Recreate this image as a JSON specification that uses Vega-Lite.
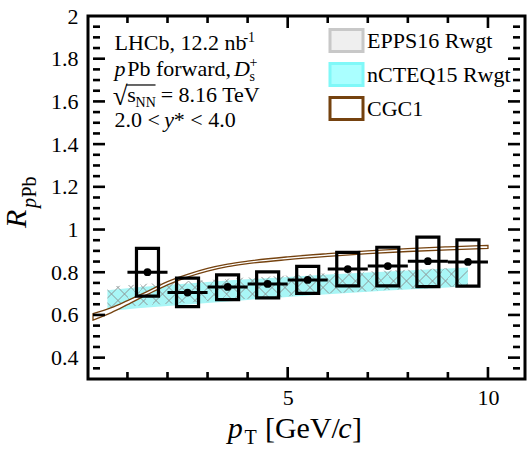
{
  "$schema": "https://vega.github.io/schema/vega-lite/v6.json",
  "width": 437,
  "height": 363,
  "autosize": {"type": "none"},
  "padding": {"left": 88, "top": 16, "right": 3, "bottom": 75},
  "background": "white",
  "config": {
    "view": {"stroke": "black", "strokeWidth": 3},
    "font": "Liberation Serif",
    "axis": {"domain": false, "ticks": false, "grid": false, "labelFont": "Liberation Serif", "labelFontSize": 22, "labelColor": "black", "title": null}
  },
  "datasets": {
    "bands": [
      {"model": "nCTEQ15 Rwgt", "pt": 0.5, "lo": 0.618, "hi": 0.716},
      {"model": "nCTEQ15 Rwgt", "pt": 1.0, "lo": 0.627, "hi": 0.725},
      {"model": "nCTEQ15 Rwgt", "pt": 1.5, "lo": 0.635, "hi": 0.733},
      {"model": "nCTEQ15 Rwgt", "pt": 2.0, "lo": 0.642, "hi": 0.740},
      {"model": "nCTEQ15 Rwgt", "pt": 2.5, "lo": 0.649, "hi": 0.747},
      {"model": "nCTEQ15 Rwgt", "pt": 3.0, "lo": 0.656, "hi": 0.754},
      {"model": "nCTEQ15 Rwgt", "pt": 3.5, "lo": 0.663, "hi": 0.761},
      {"model": "nCTEQ15 Rwgt", "pt": 4.0, "lo": 0.670, "hi": 0.767},
      {"model": "nCTEQ15 Rwgt", "pt": 5.0, "lo": 0.684, "hi": 0.778},
      {"model": "nCTEQ15 Rwgt", "pt": 6.0, "lo": 0.697, "hi": 0.789},
      {"model": "nCTEQ15 Rwgt", "pt": 7.0, "lo": 0.709, "hi": 0.799},
      {"model": "nCTEQ15 Rwgt", "pt": 8.0, "lo": 0.719, "hi": 0.808},
      {"model": "nCTEQ15 Rwgt", "pt": 9.0, "lo": 0.729, "hi": 0.817},
      {"model": "nCTEQ15 Rwgt", "pt": 9.5, "lo": 0.734, "hi": 0.822},
      {"model": "EPPS16 Rwgt", "pt": 0.5, "lo": 0.632, "hi": 0.731},
      {"model": "EPPS16 Rwgt", "pt": 1.0, "lo": 0.639, "hi": 0.739},
      {"model": "EPPS16 Rwgt", "pt": 1.5, "lo": 0.646, "hi": 0.746},
      {"model": "EPPS16 Rwgt", "pt": 2.0, "lo": 0.652, "hi": 0.752},
      {"model": "EPPS16 Rwgt", "pt": 2.5, "lo": 0.658, "hi": 0.758},
      {"model": "EPPS16 Rwgt", "pt": 3.0, "lo": 0.664, "hi": 0.764},
      {"model": "EPPS16 Rwgt", "pt": 3.5, "lo": 0.670, "hi": 0.770},
      {"model": "EPPS16 Rwgt", "pt": 4.0, "lo": 0.676, "hi": 0.775},
      {"model": "EPPS16 Rwgt", "pt": 5.0, "lo": 0.688, "hi": 0.785},
      {"model": "EPPS16 Rwgt", "pt": 6.0, "lo": 0.700, "hi": 0.795},
      {"model": "EPPS16 Rwgt", "pt": 7.0, "lo": 0.711, "hi": 0.804},
      {"model": "EPPS16 Rwgt", "pt": 8.0, "lo": 0.721, "hi": 0.812},
      {"model": "EPPS16 Rwgt", "pt": 9.0, "lo": 0.730, "hi": 0.820},
      {"model": "EPPS16 Rwgt", "pt": 9.5, "lo": 0.735, "hi": 0.825},
      {"model": "CGC1", "pt": 0.14, "lo": 0.576, "hi": 0.606},
      {"model": "CGC1", "pt": 0.6, "lo": 0.611, "hi": 0.634},
      {"model": "CGC1", "pt": 1.0, "lo": 0.648, "hi": 0.667},
      {"model": "CGC1", "pt": 1.5, "lo": 0.696, "hi": 0.710},
      {"model": "CGC1", "pt": 2.0, "lo": 0.741, "hi": 0.756},
      {"model": "CGC1", "pt": 2.5, "lo": 0.777, "hi": 0.790},
      {"model": "CGC1", "pt": 3.0, "lo": 0.805, "hi": 0.818},
      {"model": "CGC1", "pt": 3.5, "lo": 0.826, "hi": 0.838},
      {"model": "CGC1", "pt": 4.0, "lo": 0.840, "hi": 0.852},
      {"model": "CGC1", "pt": 5.0, "lo": 0.859, "hi": 0.872},
      {"model": "CGC1", "pt": 6.0, "lo": 0.874, "hi": 0.887},
      {"model": "CGC1", "pt": 7.0, "lo": 0.887, "hi": 0.900},
      {"model": "CGC1", "pt": 8.0, "lo": 0.897, "hi": 0.911},
      {"model": "CGC1", "pt": 9.0, "lo": 0.905, "hi": 0.919},
      {"model": "CGC1", "pt": 10.0, "lo": 0.912, "hi": 0.926}
    ],
    "lhcb": [
      {"pt": 1.5, "ptLo": 1, "ptHi": 2, "r": 0.800, "sysLo": 0.688, "sysHi": 0.912},
      {"pt": 2.5, "ptLo": 2, "ptHi": 3, "r": 0.705, "sysLo": 0.639, "sysHi": 0.772},
      {"pt": 3.5, "ptLo": 3, "ptHi": 4, "r": 0.731, "sysLo": 0.672, "sysHi": 0.788},
      {"pt": 4.5, "ptLo": 4, "ptHi": 5, "r": 0.745, "sysLo": 0.680, "sysHi": 0.802},
      {"pt": 5.5, "ptLo": 5, "ptHi": 6, "r": 0.764, "sysLo": 0.701, "sysHi": 0.827},
      {"pt": 6.5, "ptLo": 6, "ptHi": 7, "r": 0.815, "sysLo": 0.736, "sysHi": 0.893},
      {"pt": 7.5, "ptLo": 7, "ptHi": 8, "r": 0.829, "sysLo": 0.736, "sysHi": 0.917},
      {"pt": 8.5, "ptLo": 8, "ptHi": 9, "r": 0.852, "sysLo": 0.733, "sysHi": 0.964},
      {"pt": 9.5, "ptLo": 9, "ptHi": 10, "r": 0.848, "sysLo": 0.735, "sysHi": 0.952}
    ],
    "xmaj": [{"v": 5}, {"v": 10}],
    "xmin": [{"v": 1}, {"v": 2}, {"v": 3}, {"v": 4}, {"v": 6}, {"v": 7}, {"v": 8}, {"v": 9}],
    "ymaj": [{"v": 0.4}, {"v": 0.6}, {"v": 0.8}, {"v": 1.0}, {"v": 1.2}, {"v": 1.4}, {"v": 1.6}, {"v": 1.8}],
    "ymin": [{"v": 0.35}, {"v": 0.45}, {"v": 0.5}, {"v": 0.55}, {"v": 0.65}, {"v": 0.7}, {"v": 0.75}, {"v": 0.85}, {"v": 0.9}, {"v": 0.95}, {"v": 1.05}, {"v": 1.1}, {"v": 1.15}, {"v": 1.25}, {"v": 1.3}, {"v": 1.35}, {"v": 1.45}, {"v": 1.5}, {"v": 1.55}, {"v": 1.65}, {"v": 1.7}, {"v": 1.75}, {"v": 1.85}, {"v": 1.9}, {"v": 1.95}],
    "t22r": [
      {"x": 0.6766, "y": 1.8408, "t": "LHCb, 12.2 nb"},
      {"x": 0.9937, "y": 1.719, "t": "Pb forward,"},
      {"x": 0.9937, "y": 1.5972, "t": "s"},
      {"x": 1.830, "y": 1.5972, "t": "= 8.16 TeV"},
      {"x": 0.6766, "y": 1.4802, "t": "2.0 <"},
      {"x": 2.157, "y": 1.4802, "t": "* < 4.0"}
    ],
    "t26r": [
      {"x": 0.63, "y": 1.585, "t": "√"}
    ],
    "t22i": [
      {"x": 0.6766, "y": 1.719, "t": "p"},
      {"x": 3.662, "y": 1.719, "t": "D"},
      {"x": 1.918, "y": 1.4802, "t": "y"}
    ],
    "t14r": [
      {"x": 3.896, "y": 1.8782, "t": "-1"},
      {"x": 4.05, "y": 1.6956, "t": "s"},
      {"x": 4.05, "y": 1.7612, "t": "+"},
      {"x": 1.2034, "y": 1.5738, "t": "NN"}
    ],
    "overline": [{"x": 0.97, "x2": 1.701, "y": 1.6769}],
    "xt30i": [
      {"x": 3.5059, "y": 0.0237, "t": "p"},
      {"x": 6.262, "y": 0.0237, "t": "c"}
    ],
    "xt30r": [
      {"x": 4.4327, "y": 0.0237, "t": "[GeV/"},
      {"x": 6.6034, "y": 0.0237, "t": "]"}
    ],
    "xt20r": [{"x": 3.9205, "y": -0.0044, "t": "T"}],
    "yt30i": [{"x": -1.543, "y": 1.0072, "t": "R"}],
    "yt20i": [{"x": -1.2746, "y": 1.1008, "t": "p"}],
    "yt20r": [{"x": -1.2746, "y": 1.15, "t": "Pb"}]
  },
  "resolve": {"axis": {"x": "independent", "y": "independent"}},
  "layer": [
    {
      "data": {"name": "bands"},
      "transform": [{"filter": "datum.model === 'nCTEQ15 Rwgt'"}],
      "mark": {"type": "area", "fill": "#a8f6f6", "opacity": 1, "interpolate": "monotone"},
      "encoding": {
        "x": {"field": "pt", "type": "quantitative", "scale": {"domain": [0.14, 10.8], "nice": false, "zero": false},
              "axis": {"orient": "bottom", "values": [5, 10], "labelPadding": 8, "format": "d"}},
        "y": {"field": "lo", "type": "quantitative", "scale": {"domain": [0.3, 2.0], "nice": false, "zero": false},
              "axis": {"orient": "left", "values": [0.4, 0.6, 0.8, 1, 1.2, 1.4, 1.6, 1.8, 2], "labelPadding": 10, "format": "~g"}},
        "y2": {"field": "hi"}
      }
    },
    {
      "data": {"name": "bands"},
      "transform": [{"filter": "datum.model === 'EPPS16 Rwgt'"}],
      "mark": {"type": "area", "opacity": 1, "interpolate": "monotone",
        "fill": {"gradient": "linear", "x1": 0, "y1": 0, "x2": 1.05, "y2": 0.1173, "stops": [
          {"offset": 0, "color": "rgba(255,255,255,0)"},
          {"offset": 0.0100, "color": "rgba(255,255,255,0)"}, {"offset": 0.0100, "color": "rgba(140,150,150,0.5)"}, {"offset": 0.0150, "color": "rgba(140,150,150,0.5)"}, {"offset": 0.0150, "color": "rgba(255,255,255,0)"},
          {"offset": 0.0435, "color": "rgba(255,255,255,0)"}, {"offset": 0.0435, "color": "rgba(140,150,150,0.5)"}, {"offset": 0.0485, "color": "rgba(140,150,150,0.5)"}, {"offset": 0.0485, "color": "rgba(255,255,255,0)"},
          {"offset": 0.0770, "color": "rgba(255,255,255,0)"}, {"offset": 0.0770, "color": "rgba(140,150,150,0.5)"}, {"offset": 0.0820, "color": "rgba(140,150,150,0.5)"}, {"offset": 0.0820, "color": "rgba(255,255,255,0)"},
          {"offset": 0.1105, "color": "rgba(255,255,255,0)"}, {"offset": 0.1105, "color": "rgba(140,150,150,0.5)"}, {"offset": 0.1155, "color": "rgba(140,150,150,0.5)"}, {"offset": 0.1155, "color": "rgba(255,255,255,0)"},
          {"offset": 0.1440, "color": "rgba(255,255,255,0)"}, {"offset": 0.1440, "color": "rgba(140,150,150,0.5)"}, {"offset": 0.1490, "color": "rgba(140,150,150,0.5)"}, {"offset": 0.1490, "color": "rgba(255,255,255,0)"},
          {"offset": 0.1775, "color": "rgba(255,255,255,0)"}, {"offset": 0.1775, "color": "rgba(140,150,150,0.5)"}, {"offset": 0.1825, "color": "rgba(140,150,150,0.5)"}, {"offset": 0.1825, "color": "rgba(255,255,255,0)"},
          {"offset": 0.2110, "color": "rgba(255,255,255,0)"}, {"offset": 0.2110, "color": "rgba(140,150,150,0.5)"}, {"offset": 0.2160, "color": "rgba(140,150,150,0.5)"}, {"offset": 0.2160, "color": "rgba(255,255,255,0)"},
          {"offset": 0.2445, "color": "rgba(255,255,255,0)"}, {"offset": 0.2445, "color": "rgba(140,150,150,0.5)"}, {"offset": 0.2495, "color": "rgba(140,150,150,0.5)"}, {"offset": 0.2495, "color": "rgba(255,255,255,0)"},
          {"offset": 0.2780, "color": "rgba(255,255,255,0)"}, {"offset": 0.2780, "color": "rgba(140,150,150,0.5)"}, {"offset": 0.2830, "color": "rgba(140,150,150,0.5)"}, {"offset": 0.2830, "color": "rgba(255,255,255,0)"},
          {"offset": 0.3115, "color": "rgba(255,255,255,0)"}, {"offset": 0.3115, "color": "rgba(140,150,150,0.5)"}, {"offset": 0.3165, "color": "rgba(140,150,150,0.5)"}, {"offset": 0.3165, "color": "rgba(255,255,255,0)"},
          {"offset": 0.3450, "color": "rgba(255,255,255,0)"}, {"offset": 0.3450, "color": "rgba(140,150,150,0.5)"}, {"offset": 0.3500, "color": "rgba(140,150,150,0.5)"}, {"offset": 0.3500, "color": "rgba(255,255,255,0)"},
          {"offset": 0.3785, "color": "rgba(255,255,255,0)"}, {"offset": 0.3785, "color": "rgba(140,150,150,0.5)"}, {"offset": 0.3835, "color": "rgba(140,150,150,0.5)"}, {"offset": 0.3835, "color": "rgba(255,255,255,0)"},
          {"offset": 0.4120, "color": "rgba(255,255,255,0)"}, {"offset": 0.4120, "color": "rgba(140,150,150,0.5)"}, {"offset": 0.4170, "color": "rgba(140,150,150,0.5)"}, {"offset": 0.4170, "color": "rgba(255,255,255,0)"},
          {"offset": 0.4455, "color": "rgba(255,255,255,0)"}, {"offset": 0.4455, "color": "rgba(140,150,150,0.5)"}, {"offset": 0.4505, "color": "rgba(140,150,150,0.5)"}, {"offset": 0.4505, "color": "rgba(255,255,255,0)"},
          {"offset": 0.4790, "color": "rgba(255,255,255,0)"}, {"offset": 0.4790, "color": "rgba(140,150,150,0.5)"}, {"offset": 0.4840, "color": "rgba(140,150,150,0.5)"}, {"offset": 0.4840, "color": "rgba(255,255,255,0)"},
          {"offset": 0.5125, "color": "rgba(255,255,255,0)"}, {"offset": 0.5125, "color": "rgba(140,150,150,0.5)"}, {"offset": 0.5175, "color": "rgba(140,150,150,0.5)"}, {"offset": 0.5175, "color": "rgba(255,255,255,0)"},
          {"offset": 0.5460, "color": "rgba(255,255,255,0)"}, {"offset": 0.5460, "color": "rgba(140,150,150,0.5)"}, {"offset": 0.5510, "color": "rgba(140,150,150,0.5)"}, {"offset": 0.5510, "color": "rgba(255,255,255,0)"},
          {"offset": 0.5795, "color": "rgba(255,255,255,0)"}, {"offset": 0.5795, "color": "rgba(140,150,150,0.5)"}, {"offset": 0.5845, "color": "rgba(140,150,150,0.5)"}, {"offset": 0.5845, "color": "rgba(255,255,255,0)"},
          {"offset": 0.6130, "color": "rgba(255,255,255,0)"}, {"offset": 0.6130, "color": "rgba(140,150,150,0.5)"}, {"offset": 0.6180, "color": "rgba(140,150,150,0.5)"}, {"offset": 0.6180, "color": "rgba(255,255,255,0)"},
          {"offset": 0.6465, "color": "rgba(255,255,255,0)"}, {"offset": 0.6465, "color": "rgba(140,150,150,0.5)"}, {"offset": 0.6515, "color": "rgba(140,150,150,0.5)"}, {"offset": 0.6515, "color": "rgba(255,255,255,0)"},
          {"offset": 0.6800, "color": "rgba(255,255,255,0)"}, {"offset": 0.6800, "color": "rgba(140,150,150,0.5)"}, {"offset": 0.6850, "color": "rgba(140,150,150,0.5)"}, {"offset": 0.6850, "color": "rgba(255,255,255,0)"},
          {"offset": 0.7135, "color": "rgba(255,255,255,0)"}, {"offset": 0.7135, "color": "rgba(140,150,150,0.5)"}, {"offset": 0.7185, "color": "rgba(140,150,150,0.5)"}, {"offset": 0.7185, "color": "rgba(255,255,255,0)"},
          {"offset": 0.7470, "color": "rgba(255,255,255,0)"}, {"offset": 0.7470, "color": "rgba(140,150,150,0.5)"}, {"offset": 0.7520, "color": "rgba(140,150,150,0.5)"}, {"offset": 0.7520, "color": "rgba(255,255,255,0)"},
          {"offset": 0.7805, "color": "rgba(255,255,255,0)"}, {"offset": 0.7805, "color": "rgba(140,150,150,0.5)"}, {"offset": 0.7855, "color": "rgba(140,150,150,0.5)"}, {"offset": 0.7855, "color": "rgba(255,255,255,0)"},
          {"offset": 0.8140, "color": "rgba(255,255,255,0)"}, {"offset": 0.8140, "color": "rgba(140,150,150,0.5)"}, {"offset": 0.8190, "color": "rgba(140,150,150,0.5)"}, {"offset": 0.8190, "color": "rgba(255,255,255,0)"},
          {"offset": 0.8475, "color": "rgba(255,255,255,0)"}, {"offset": 0.8475, "color": "rgba(140,150,150,0.5)"}, {"offset": 0.8525, "color": "rgba(140,150,150,0.5)"}, {"offset": 0.8525, "color": "rgba(255,255,255,0)"},
          {"offset": 0.8810, "color": "rgba(255,255,255,0)"}, {"offset": 0.8810, "color": "rgba(140,150,150,0.5)"}, {"offset": 0.8860, "color": "rgba(140,150,150,0.5)"}, {"offset": 0.8860, "color": "rgba(255,255,255,0)"},
          {"offset": 0.9145, "color": "rgba(255,255,255,0)"}, {"offset": 0.9145, "color": "rgba(140,150,150,0.5)"}, {"offset": 0.9195, "color": "rgba(140,150,150,0.5)"}, {"offset": 0.9195, "color": "rgba(255,255,255,0)"},
          {"offset": 0.9480, "color": "rgba(255,255,255,0)"}, {"offset": 0.9480, "color": "rgba(140,150,150,0.5)"}, {"offset": 0.9530, "color": "rgba(140,150,150,0.5)"}, {"offset": 0.9530, "color": "rgba(255,255,255,0)"},
          {"offset": 0.9815, "color": "rgba(255,255,255,0)"}, {"offset": 0.9815, "color": "rgba(140,150,150,0.5)"}, {"offset": 0.9865, "color": "rgba(140,150,150,0.5)"}, {"offset": 0.9865, "color": "rgba(255,255,255,0)"},
          {"offset": 1, "color": "rgba(255,255,255,0)"}
        ]}},
      "encoding": {
        "x": {"field": "pt", "type": "quantitative", "scale": {"domain": [0.14, 10.8], "nice": false, "zero": false}, "axis": null},
        "y": {"field": "lo", "type": "quantitative", "scale": {"domain": [0.3, 2.0], "nice": false, "zero": false}, "axis": null},
        "y2": {"field": "hi"}
      }
    },
    {
      "data": {"name": "bands"},
      "transform": [{"filter": "datum.model === 'EPPS16 Rwgt'"}],
      "mark": {"type": "area", "opacity": 1, "interpolate": "monotone",
        "fill": {"gradient": "linear", "x1": 0, "y1": 1, "x2": 1.05, "y2": 0.8827, "stops": [
          {"offset": 0, "color": "rgba(255,255,255,0)"},
          {"offset": 0.0100, "color": "rgba(255,255,255,0)"}, {"offset": 0.0100, "color": "rgba(140,150,150,0.5)"}, {"offset": 0.0150, "color": "rgba(140,150,150,0.5)"}, {"offset": 0.0150, "color": "rgba(255,255,255,0)"},
          {"offset": 0.0435, "color": "rgba(255,255,255,0)"}, {"offset": 0.0435, "color": "rgba(140,150,150,0.5)"}, {"offset": 0.0485, "color": "rgba(140,150,150,0.5)"}, {"offset": 0.0485, "color": "rgba(255,255,255,0)"},
          {"offset": 0.0770, "color": "rgba(255,255,255,0)"}, {"offset": 0.0770, "color": "rgba(140,150,150,0.5)"}, {"offset": 0.0820, "color": "rgba(140,150,150,0.5)"}, {"offset": 0.0820, "color": "rgba(255,255,255,0)"},
          {"offset": 0.1105, "color": "rgba(255,255,255,0)"}, {"offset": 0.1105, "color": "rgba(140,150,150,0.5)"}, {"offset": 0.1155, "color": "rgba(140,150,150,0.5)"}, {"offset": 0.1155, "color": "rgba(255,255,255,0)"},
          {"offset": 0.1440, "color": "rgba(255,255,255,0)"}, {"offset": 0.1440, "color": "rgba(140,150,150,0.5)"}, {"offset": 0.1490, "color": "rgba(140,150,150,0.5)"}, {"offset": 0.1490, "color": "rgba(255,255,255,0)"},
          {"offset": 0.1775, "color": "rgba(255,255,255,0)"}, {"offset": 0.1775, "color": "rgba(140,150,150,0.5)"}, {"offset": 0.1825, "color": "rgba(140,150,150,0.5)"}, {"offset": 0.1825, "color": "rgba(255,255,255,0)"},
          {"offset": 0.2110, "color": "rgba(255,255,255,0)"}, {"offset": 0.2110, "color": "rgba(140,150,150,0.5)"}, {"offset": 0.2160, "color": "rgba(140,150,150,0.5)"}, {"offset": 0.2160, "color": "rgba(255,255,255,0)"},
          {"offset": 0.2445, "color": "rgba(255,255,255,0)"}, {"offset": 0.2445, "color": "rgba(140,150,150,0.5)"}, {"offset": 0.2495, "color": "rgba(140,150,150,0.5)"}, {"offset": 0.2495, "color": "rgba(255,255,255,0)"},
          {"offset": 0.2780, "color": "rgba(255,255,255,0)"}, {"offset": 0.2780, "color": "rgba(140,150,150,0.5)"}, {"offset": 0.2830, "color": "rgba(140,150,150,0.5)"}, {"offset": 0.2830, "color": "rgba(255,255,255,0)"},
          {"offset": 0.3115, "color": "rgba(255,255,255,0)"}, {"offset": 0.3115, "color": "rgba(140,150,150,0.5)"}, {"offset": 0.3165, "color": "rgba(140,150,150,0.5)"}, {"offset": 0.3165, "color": "rgba(255,255,255,0)"},
          {"offset": 0.3450, "color": "rgba(255,255,255,0)"}, {"offset": 0.3450, "color": "rgba(140,150,150,0.5)"}, {"offset": 0.3500, "color": "rgba(140,150,150,0.5)"}, {"offset": 0.3500, "color": "rgba(255,255,255,0)"},
          {"offset": 0.3785, "color": "rgba(255,255,255,0)"}, {"offset": 0.3785, "color": "rgba(140,150,150,0.5)"}, {"offset": 0.3835, "color": "rgba(140,150,150,0.5)"}, {"offset": 0.3835, "color": "rgba(255,255,255,0)"},
          {"offset": 0.4120, "color": "rgba(255,255,255,0)"}, {"offset": 0.4120, "color": "rgba(140,150,150,0.5)"}, {"offset": 0.4170, "color": "rgba(140,150,150,0.5)"}, {"offset": 0.4170, "color": "rgba(255,255,255,0)"},
          {"offset": 0.4455, "color": "rgba(255,255,255,0)"}, {"offset": 0.4455, "color": "rgba(140,150,150,0.5)"}, {"offset": 0.4505, "color": "rgba(140,150,150,0.5)"}, {"offset": 0.4505, "color": "rgba(255,255,255,0)"},
          {"offset": 0.4790, "color": "rgba(255,255,255,0)"}, {"offset": 0.4790, "color": "rgba(140,150,150,0.5)"}, {"offset": 0.4840, "color": "rgba(140,150,150,0.5)"}, {"offset": 0.4840, "color": "rgba(255,255,255,0)"},
          {"offset": 0.5125, "color": "rgba(255,255,255,0)"}, {"offset": 0.5125, "color": "rgba(140,150,150,0.5)"}, {"offset": 0.5175, "color": "rgba(140,150,150,0.5)"}, {"offset": 0.5175, "color": "rgba(255,255,255,0)"},
          {"offset": 0.5460, "color": "rgba(255,255,255,0)"}, {"offset": 0.5460, "color": "rgba(140,150,150,0.5)"}, {"offset": 0.5510, "color": "rgba(140,150,150,0.5)"}, {"offset": 0.5510, "color": "rgba(255,255,255,0)"},
          {"offset": 0.5795, "color": "rgba(255,255,255,0)"}, {"offset": 0.5795, "color": "rgba(140,150,150,0.5)"}, {"offset": 0.5845, "color": "rgba(140,150,150,0.5)"}, {"offset": 0.5845, "color": "rgba(255,255,255,0)"},
          {"offset": 0.6130, "color": "rgba(255,255,255,0)"}, {"offset": 0.6130, "color": "rgba(140,150,150,0.5)"}, {"offset": 0.6180, "color": "rgba(140,150,150,0.5)"}, {"offset": 0.6180, "color": "rgba(255,255,255,0)"},
          {"offset": 0.6465, "color": "rgba(255,255,255,0)"}, {"offset": 0.6465, "color": "rgba(140,150,150,0.5)"}, {"offset": 0.6515, "color": "rgba(140,150,150,0.5)"}, {"offset": 0.6515, "color": "rgba(255,255,255,0)"},
          {"offset": 0.6800, "color": "rgba(255,255,255,0)"}, {"offset": 0.6800, "color": "rgba(140,150,150,0.5)"}, {"offset": 0.6850, "color": "rgba(140,150,150,0.5)"}, {"offset": 0.6850, "color": "rgba(255,255,255,0)"},
          {"offset": 0.7135, "color": "rgba(255,255,255,0)"}, {"offset": 0.7135, "color": "rgba(140,150,150,0.5)"}, {"offset": 0.7185, "color": "rgba(140,150,150,0.5)"}, {"offset": 0.7185, "color": "rgba(255,255,255,0)"},
          {"offset": 0.7470, "color": "rgba(255,255,255,0)"}, {"offset": 0.7470, "color": "rgba(140,150,150,0.5)"}, {"offset": 0.7520, "color": "rgba(140,150,150,0.5)"}, {"offset": 0.7520, "color": "rgba(255,255,255,0)"},
          {"offset": 0.7805, "color": "rgba(255,255,255,0)"}, {"offset": 0.7805, "color": "rgba(140,150,150,0.5)"}, {"offset": 0.7855, "color": "rgba(140,150,150,0.5)"}, {"offset": 0.7855, "color": "rgba(255,255,255,0)"},
          {"offset": 0.8140, "color": "rgba(255,255,255,0)"}, {"offset": 0.8140, "color": "rgba(140,150,150,0.5)"}, {"offset": 0.8190, "color": "rgba(140,150,150,0.5)"}, {"offset": 0.8190, "color": "rgba(255,255,255,0)"},
          {"offset": 0.8475, "color": "rgba(255,255,255,0)"}, {"offset": 0.8475, "color": "rgba(140,150,150,0.5)"}, {"offset": 0.8525, "color": "rgba(140,150,150,0.5)"}, {"offset": 0.8525, "color": "rgba(255,255,255,0)"},
          {"offset": 0.8810, "color": "rgba(255,255,255,0)"}, {"offset": 0.8810, "color": "rgba(140,150,150,0.5)"}, {"offset": 0.8860, "color": "rgba(140,150,150,0.5)"}, {"offset": 0.8860, "color": "rgba(255,255,255,0)"},
          {"offset": 0.9145, "color": "rgba(255,255,255,0)"}, {"offset": 0.9145, "color": "rgba(140,150,150,0.5)"}, {"offset": 0.9195, "color": "rgba(140,150,150,0.5)"}, {"offset": 0.9195, "color": "rgba(255,255,255,0)"},
          {"offset": 0.9480, "color": "rgba(255,255,255,0)"}, {"offset": 0.9480, "color": "rgba(140,150,150,0.5)"}, {"offset": 0.9530, "color": "rgba(140,150,150,0.5)"}, {"offset": 0.9530, "color": "rgba(255,255,255,0)"},
          {"offset": 0.9815, "color": "rgba(255,255,255,0)"}, {"offset": 0.9815, "color": "rgba(140,150,150,0.5)"}, {"offset": 0.9865, "color": "rgba(140,150,150,0.5)"}, {"offset": 0.9865, "color": "rgba(255,255,255,0)"},
          {"offset": 1, "color": "rgba(255,255,255,0)"}
        ]}},
      "encoding": {
        "x": {"field": "pt", "type": "quantitative", "scale": {"domain": [0.14, 10.8], "nice": false, "zero": false}, "axis": null},
        "y": {"field": "lo", "type": "quantitative", "scale": {"domain": [0.3, 2.0], "nice": false, "zero": false}, "axis": null},
        "y2": {"field": "hi"}
      }
    },
    {
      "data": {"name": "bands"},
      "transform": [{"filter": "datum.model === 'CGC1'"}],
      "mark": {"type": "area", "opacity": 1, "strokeWidth": 1.3, "interpolate": "monotone"},
      "encoding": {
        "x": {"field": "pt", "type": "quantitative", "scale": {"domain": [0.14, 10.8], "nice": false, "zero": false}, "axis": null},
        "y": {"field": "lo", "type": "quantitative", "scale": {"domain": [0.3, 2.0], "nice": false, "zero": false}, "axis": null},
        "y2": {"field": "hi"},
        "fill": {"field": "model", "type": "nominal",
                 "scale": {"domain": ["EPPS16 Rwgt", "nCTEQ15 Rwgt", "CGC1"], "range": ["#efefef", "#aaffff", "#ffffff"]},
                 "legend": {"orient": "none", "legendX": 246, "legendY": 12, "title": null, "symbolType": "M-1.5,-1H1.5V1H-1.5Z", "symbolSize": 484, "symbolStrokeWidth": 3, "labelFont": "Liberation Serif", "labelFontSize": 22, "labelColor": "black", "labelOffset": 8, "rowPadding": -1, "padding": 0, "encode": {"symbols": {"update": {"strokeWidth": {"value": 3}}}}}},
        "stroke": {"field": "model", "type": "nominal",
                 "scale": {"domain": ["EPPS16 Rwgt", "nCTEQ15 Rwgt", "CGC1"], "range": ["#c8c8c8", "#80f8f8", "#75420f"]},
                 "legend": {"orient": "none", "legendX": 246, "legendY": 12, "title": null, "symbolType": "M-1.5,-1H1.5V1H-1.5Z", "symbolSize": 484, "symbolStrokeWidth": 3, "labelFont": "Liberation Serif", "labelFontSize": 22, "labelColor": "black", "labelOffset": 8, "rowPadding": -1, "padding": 0, "encode": {"symbols": {"update": {"strokeWidth": {"value": 3}}}}}}
      }
    },
    {
      "mark": {"type": "rule", "color": "#ff2b5b", "strokeWidth": 1.8, "strokeDash": [7, 4]},
      "encoding": {"y": {"datum": 1, "type": "quantitative", "scale": {"domain": [0.3, 2.0], "nice": false, "zero": false}, "axis": null}}
    },
    {
      "data": {"name": "lhcb"},
      "mark": {"type": "bar", "filled": false, "color": "black", "strokeWidth": 3.2, "width": 22},
      "encoding": {
        "x": {"field": "pt", "type": "quantitative", "scale": {"domain": [0.14, 10.8], "nice": false, "zero": false}, "axis": null},
        "y": {"field": "sysLo", "type": "quantitative", "scale": {"domain": [0.3, 2.0], "nice": false, "zero": false}, "axis": null},
        "y2": {"field": "sysHi"}
      }
    },
    {
      "data": {"name": "lhcb"},
      "mark": {"type": "rule", "color": "black", "strokeWidth": 3},
      "encoding": {
        "x": {"field": "ptLo", "type": "quantitative", "scale": {"domain": [0.14, 10.8], "nice": false, "zero": false}, "axis": null},
        "x2": {"field": "ptHi"},
        "y": {"field": "r", "type": "quantitative", "scale": {"domain": [0.3, 2.0], "nice": false, "zero": false}, "axis": null}
      }
    },
    {
      "data": {"name": "lhcb"},
      "mark": {"type": "circle", "color": "black", "size": 60, "opacity": 1},
      "encoding": {
        "x": {"field": "pt", "type": "quantitative", "scale": {"domain": [0.14, 10.8], "nice": false, "zero": false}, "axis": null},
        "y": {"field": "r", "type": "quantitative", "scale": {"domain": [0.3, 2.0], "nice": false, "zero": false}, "axis": null}
      }
    },
    {
      "data": {"name": "xmaj"},
      "mark": {"type": "tick", "orient": "vertical", "color": "black", "opacity": 1, "size": 12, "thickness": 2.6, "yOffset": -6},
      "encoding": {
        "x": {"field": "v", "type": "quantitative", "scale": {"domain": [0.14, 10.8], "nice": false, "zero": false}, "axis": null},
        "y": {"datum": 0.3, "type": "quantitative", "scale": {"domain": [0.3, 2.0], "nice": false, "zero": false}, "axis": null}
      }
    },
    {
      "data": {"name": "xmaj"},
      "mark": {"type": "tick", "orient": "vertical", "color": "black", "opacity": 1, "size": 12, "thickness": 2.6, "yOffset": 6},
      "encoding": {
        "x": {"field": "v", "type": "quantitative", "scale": {"domain": [0.14, 10.8], "nice": false, "zero": false}, "axis": null},
        "y": {"datum": 2.0, "type": "quantitative", "scale": {"domain": [0.3, 2.0], "nice": false, "zero": false}, "axis": null}
      }
    },
    {
      "data": {"name": "xmin"},
      "mark": {"type": "tick", "orient": "vertical", "color": "black", "opacity": 1, "size": 7, "thickness": 2.6, "yOffset": -3.5},
      "encoding": {
        "x": {"field": "v", "type": "quantitative", "scale": {"domain": [0.14, 10.8], "nice": false, "zero": false}, "axis": null},
        "y": {"datum": 0.3, "type": "quantitative", "scale": {"domain": [0.3, 2.0], "nice": false, "zero": false}, "axis": null}
      }
    },
    {
      "data": {"name": "xmin"},
      "mark": {"type": "tick", "orient": "vertical", "color": "black", "opacity": 1, "size": 7, "thickness": 2.6, "yOffset": 3.5},
      "encoding": {
        "x": {"field": "v", "type": "quantitative", "scale": {"domain": [0.14, 10.8], "nice": false, "zero": false}, "axis": null},
        "y": {"datum": 2.0, "type": "quantitative", "scale": {"domain": [0.3, 2.0], "nice": false, "zero": false}, "axis": null}
      }
    },
    {
      "data": {"name": "ymaj"},
      "mark": {"type": "tick", "orient": "horizontal", "color": "black", "opacity": 1, "size": 12, "thickness": 2.6, "xOffset": 6},
      "encoding": {
        "x": {"datum": 0.14, "type": "quantitative", "scale": {"domain": [0.14, 10.8], "nice": false, "zero": false}, "axis": null},
        "y": {"field": "v", "type": "quantitative", "scale": {"domain": [0.3, 2.0], "nice": false, "zero": false}, "axis": null}
      }
    },
    {
      "data": {"name": "ymaj"},
      "mark": {"type": "tick", "orient": "horizontal", "color": "black", "opacity": 1, "size": 12, "thickness": 2.6, "xOffset": -6},
      "encoding": {
        "x": {"datum": 10.8, "type": "quantitative", "scale": {"domain": [0.14, 10.8], "nice": false, "zero": false}, "axis": null},
        "y": {"field": "v", "type": "quantitative", "scale": {"domain": [0.3, 2.0], "nice": false, "zero": false}, "axis": null}
      }
    },
    {
      "data": {"name": "ymin"},
      "mark": {"type": "tick", "orient": "horizontal", "color": "black", "opacity": 1, "size": 7, "thickness": 2.6, "xOffset": 3.5},
      "encoding": {
        "x": {"datum": 0.14, "type": "quantitative", "scale": {"domain": [0.14, 10.8], "nice": false, "zero": false}, "axis": null},
        "y": {"field": "v", "type": "quantitative", "scale": {"domain": [0.3, 2.0], "nice": false, "zero": false}, "axis": null}
      }
    },
    {
      "data": {"name": "ymin"},
      "mark": {"type": "tick", "orient": "horizontal", "color": "black", "opacity": 1, "size": 7, "thickness": 2.6, "xOffset": -3.5},
      "encoding": {
        "x": {"datum": 10.8, "type": "quantitative", "scale": {"domain": [0.14, 10.8], "nice": false, "zero": false}, "axis": null},
        "y": {"field": "v", "type": "quantitative", "scale": {"domain": [0.3, 2.0], "nice": false, "zero": false}, "axis": null}
      }
    },
    {
      "data": {"name": "overline"},
      "mark": {"type": "rule", "color": "black", "strokeWidth": 1.2},
      "encoding": {
        "x": {"field": "x", "type": "quantitative", "scale": {"domain": [0.14, 10.8], "nice": false, "zero": false}, "axis": null},
        "x2": {"field": "x2"},
        "y": {"field": "y", "type": "quantitative", "scale": {"domain": [0.3, 2.0], "nice": false, "zero": false}, "axis": null}
      }
    },
    {
      "data": {"name": "t22r"},
      "mark": {"type": "text", "align": "left", "baseline": "alphabetic", "font": "Liberation Serif", "fontSize": 22, "color": "black"},
      "encoding": {
        "x": {"field": "x", "type": "quantitative", "scale": {"domain": [0.14, 10.8], "nice": false, "zero": false}, "axis": null},
        "y": {"field": "y", "type": "quantitative", "scale": {"domain": [0.3, 2.0], "nice": false, "zero": false}, "axis": null},
        "text": {"field": "t"}
      }
    },
    {
      "data": {"name": "t26r"},
      "mark": {"type": "text", "align": "left", "baseline": "alphabetic", "font": "Liberation Serif", "fontSize": 27, "color": "black"},
      "encoding": {
        "x": {"field": "x", "type": "quantitative", "scale": {"domain": [0.14, 10.8], "nice": false, "zero": false}, "axis": null},
        "y": {"field": "y", "type": "quantitative", "scale": {"domain": [0.3, 2.0], "nice": false, "zero": false}, "axis": null},
        "text": {"field": "t"}
      }
    },
    {
      "data": {"name": "t22i"},
      "mark": {"type": "text", "align": "left", "baseline": "alphabetic", "font": "Liberation Serif", "fontSize": 22, "fontStyle": "italic", "color": "black"},
      "encoding": {
        "x": {"field": "x", "type": "quantitative", "scale": {"domain": [0.14, 10.8], "nice": false, "zero": false}, "axis": null},
        "y": {"field": "y", "type": "quantitative", "scale": {"domain": [0.3, 2.0], "nice": false, "zero": false}, "axis": null},
        "text": {"field": "t"}
      }
    },
    {
      "data": {"name": "t14r"},
      "mark": {"type": "text", "align": "left", "baseline": "alphabetic", "font": "Liberation Serif", "fontSize": 14, "color": "black"},
      "encoding": {
        "x": {"field": "x", "type": "quantitative", "scale": {"domain": [0.14, 10.8], "nice": false, "zero": false}, "axis": null},
        "y": {"field": "y", "type": "quantitative", "scale": {"domain": [0.3, 2.0], "nice": false, "zero": false}, "axis": null},
        "text": {"field": "t"}
      }
    },
    {
      "data": {"name": "xt30i"},
      "mark": {"type": "text", "align": "left", "baseline": "alphabetic", "font": "Liberation Serif", "fontSize": 30, "fontStyle": "italic", "color": "black"},
      "encoding": {
        "x": {"field": "x", "type": "quantitative", "scale": {"domain": [0.14, 10.8], "nice": false, "zero": false}, "axis": null},
        "y": {"field": "y", "type": "quantitative", "scale": {"domain": [0.3, 2.0], "nice": false, "zero": false}, "axis": null},
        "text": {"field": "t"}
      }
    },
    {
      "data": {"name": "xt30r"},
      "mark": {"type": "text", "align": "left", "baseline": "alphabetic", "font": "Liberation Serif", "fontSize": 30, "color": "black"},
      "encoding": {
        "x": {"field": "x", "type": "quantitative", "scale": {"domain": [0.14, 10.8], "nice": false, "zero": false}, "axis": null},
        "y": {"field": "y", "type": "quantitative", "scale": {"domain": [0.3, 2.0], "nice": false, "zero": false}, "axis": null},
        "text": {"field": "t"}
      }
    },
    {
      "data": {"name": "xt20r"},
      "mark": {"type": "text", "align": "left", "baseline": "alphabetic", "font": "Liberation Serif", "fontSize": 20, "color": "black"},
      "encoding": {
        "x": {"field": "x", "type": "quantitative", "scale": {"domain": [0.14, 10.8], "nice": false, "zero": false}, "axis": null},
        "y": {"field": "y", "type": "quantitative", "scale": {"domain": [0.3, 2.0], "nice": false, "zero": false}, "axis": null},
        "text": {"field": "t"}
      }
    },
    {
      "data": {"name": "yt30i"},
      "mark": {"type": "text", "align": "left", "baseline": "alphabetic", "angle": 270, "font": "Liberation Serif", "fontSize": 30, "fontStyle": "italic", "color": "black"},
      "encoding": {
        "x": {"field": "x", "type": "quantitative", "scale": {"domain": [0.14, 10.8], "nice": false, "zero": false}, "axis": null},
        "y": {"field": "y", "type": "quantitative", "scale": {"domain": [0.3, 2.0], "nice": false, "zero": false}, "axis": null},
        "text": {"field": "t"}
      }
    },
    {
      "data": {"name": "yt20i"},
      "mark": {"type": "text", "align": "left", "baseline": "alphabetic", "angle": 270, "font": "Liberation Serif", "fontSize": 20, "fontStyle": "italic", "color": "black"},
      "encoding": {
        "x": {"field": "x", "type": "quantitative", "scale": {"domain": [0.14, 10.8], "nice": false, "zero": false}, "axis": null},
        "y": {"field": "y", "type": "quantitative", "scale": {"domain": [0.3, 2.0], "nice": false, "zero": false}, "axis": null},
        "text": {"field": "t"}
      }
    },
    {
      "data": {"name": "yt20r"},
      "mark": {"type": "text", "align": "left", "baseline": "alphabetic", "angle": 270, "font": "Liberation Serif", "fontSize": 20, "color": "black"},
      "encoding": {
        "x": {"field": "x", "type": "quantitative", "scale": {"domain": [0.14, 10.8], "nice": false, "zero": false}, "axis": null},
        "y": {"field": "y", "type": "quantitative", "scale": {"domain": [0.3, 2.0], "nice": false, "zero": false}, "axis": null},
        "text": {"field": "t"}
      }
    }
  ]
}
